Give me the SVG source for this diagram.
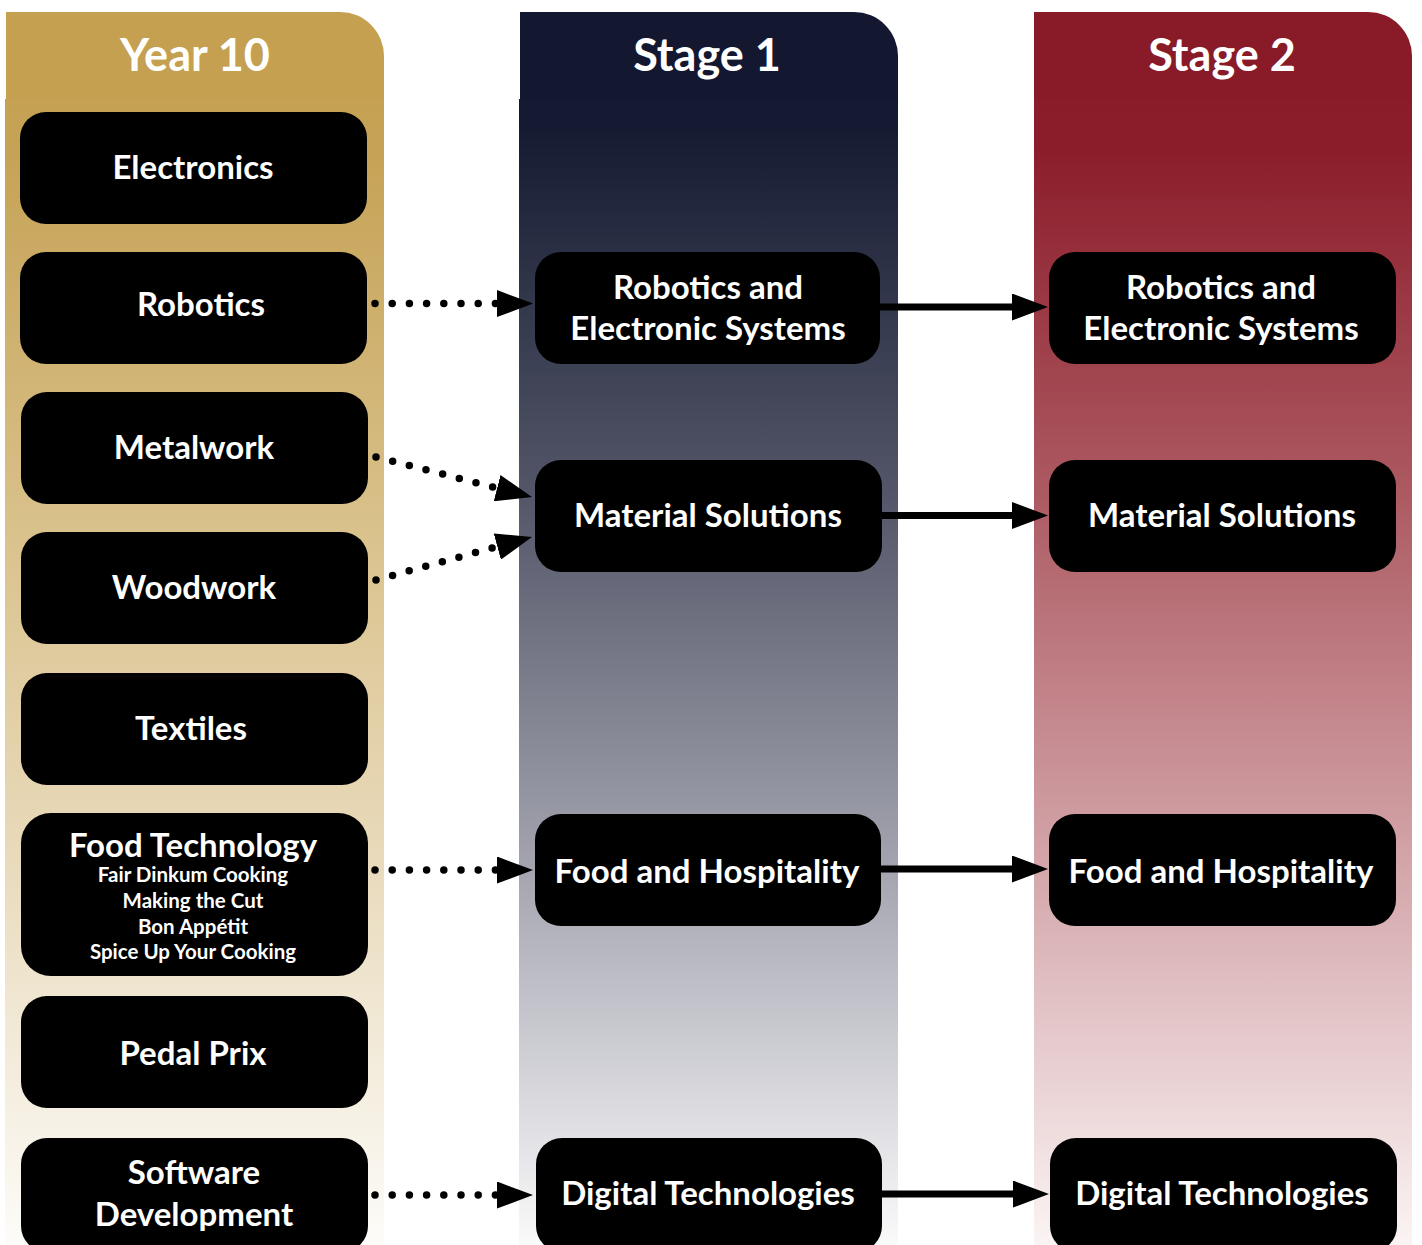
<svg xmlns="http://www.w3.org/2000/svg" width="1422" height="1245" viewBox="0 0 1422 1245">
<defs>
  <linearGradient id="gGold" x1="0" y1="0" x2="0" y2="1245" gradientUnits="userSpaceOnUse">
    <stop offset="0" stop-color="#c4a050"/>
    <stop offset="0.12" stop-color="#c5a255"/>
    <stop offset="0.45" stop-color="#dbc490"/>
    <stop offset="0.7" stop-color="#e9dbbd"/>
    <stop offset="1" stop-color="#fdfcf9"/>
  </linearGradient>
  <linearGradient id="gNavy" x1="0" y1="0" x2="0" y2="1245" gradientUnits="userSpaceOnUse">
    <stop offset="0" stop-color="#131830"/>
    <stop offset="0.1" stop-color="#141a31"/>
    <stop offset="0.4" stop-color="#545769"/>
    <stop offset="0.7" stop-color="#a4a5b0"/>
    <stop offset="1" stop-color="#fafafb"/>
  </linearGradient>
  <linearGradient id="gRed" x1="0" y1="0" x2="0" y2="1245" gradientUnits="userSpaceOnUse">
    <stop offset="0" stop-color="#891a27"/>
    <stop offset="0.12" stop-color="#8b1d2a"/>
    <stop offset="0.4" stop-color="#ad5b63"/>
    <stop offset="0.7" stop-color="#d4a7ab"/>
    <stop offset="1" stop-color="#fbf4f4"/>
  </linearGradient>
  <marker id="ah" viewBox="0 0 36 27" refX="0" refY="13.5" markerWidth="36" markerHeight="27" markerUnits="userSpaceOnUse" orient="auto">
    <path d="M0,0 L36,13.5 L0,27 Z" fill="#000"/>
  </marker>
</defs>
<style>
  .node { fill: #000; }
  .t { font-family: Lato, "Open Sans", sans-serif; font-weight: 700; fill: #fff; text-anchor: middle; }
  .h { font-size: 45px; }
  .n { font-size: 33px; }
  .s { font-size: 20.5px; }
  .dot { fill: none; stroke: #000; stroke-width: 7.5; stroke-linecap: round; stroke-dasharray: 0 17.2; marker-end: url(#ah); }
  .sol { fill: none; stroke: #000; stroke-width: 7; marker-end: url(#ah); }
</style>

<g id="columns">
  <g id="col-year10">
    <path d="M6,12 H340 A44,44 0 0 1 384,56 V100 H6 Z" fill="#c4a050"/>
    <rect x="5" y="99" width="379" height="1146" fill="url(#gGold)"/>
    <text class="t h" x="195" y="71">Year 10</text>
  </g>
  <g id="col-stage1">
    <path d="M520,12 H854 A44,44 0 0 1 898,56 V100 H520 Z" fill="#131830"/>
    <rect x="519" y="99" width="379" height="1146" fill="url(#gNavy)"/>
    <text class="t h" x="707" y="71">Stage 1</text>
  </g>
  <g id="col-stage2">
    <path d="M1034,12 H1368 A44,44 0 0 1 1412,56 V100 H1034 Z" fill="#891a27"/>
    <rect x="1034" y="99" width="378" height="1146" fill="url(#gRed)"/>
    <text class="t h" x="1222" y="71">Stage 2</text>
  </g>
</g>

<g id="connectors">
  <path class="dot" d="M375,303.5 L497,303.5"/>
  <path class="dot" d="M376,457 L497.1,488.1"/>
  <path class="dot" d="M376,580 L497.3,546.6"/>
  <path class="dot" d="M375,870 L497,870"/>
  <path class="dot" d="M375,1195 L497,1195"/>
  <path class="sol" d="M880,307 L1012,307"/>
  <path class="sol" d="M882,515.5 L1012,515.5"/>
  <path class="sol" d="M880,869 L1012,869"/>
  <path class="sol" d="M882,1194 L1013,1194"/>
</g>

<g id="n-electronics"><rect class="node" x="20" y="112" width="347" height="112" rx="26"/><text class="t n" x="193" y="179">Electronics</text></g>
<g id="n-robotics"><rect class="node" x="20" y="252" width="347" height="112" rx="26"/><text class="t n" x="201" y="316">Robotics</text></g>
<g id="n-metalwork"><rect class="node" x="21" y="392" width="347" height="112" rx="26"/><text class="t n" x="194" y="459">Metalwork</text></g>
<g id="n-woodwork"><rect class="node" x="21" y="532" width="347" height="112" rx="26"/><text class="t n" x="194" y="599">Woodwork</text></g>
<g id="n-textiles"><rect class="node" x="21" y="673" width="347" height="112" rx="26"/><text class="t n" x="191" y="740">Textiles</text></g>
<g id="n-foodtech"><rect class="node" x="21" y="813" width="347" height="163" rx="30"/>
  <text class="t n" x="193" y="857">Food Technology</text>
  <text class="t s" x="193" y="882">Fair Dinkum Cooking</text>
  <text class="t s" x="193" y="908">Making the Cut</text>
  <text class="t s" x="193" y="934">Bon Appétit</text>
  <text class="t s" x="193" y="959">Spice Up Your Cooking</text>
</g>
<g id="n-pedalprix"><rect class="node" x="21" y="996" width="347" height="112" rx="26"/><text class="t n" x="193" y="1065">Pedal Prix</text></g>
<g id="n-software"><rect class="node" x="21" y="1138" width="347" height="114" rx="26"/><text class="t n" x="194" y="1184">Software</text><text class="t n" x="194" y="1226">Development</text></g>

<g id="s1-robotics"><rect class="node" x="535" y="252" width="345" height="112" rx="26"/><text class="t n" x="708" y="299">Robotics and</text><text class="t n" x="708" y="340">Electronic Systems</text></g>
<g id="s1-material"><rect class="node" x="535" y="460" width="347" height="112" rx="26"/><text class="t n" x="708" y="527">Material Solutions</text></g>
<g id="s1-food"><rect class="node" x="535" y="814" width="346" height="112" rx="26"/><text class="t n" x="707" y="883">Food and Hospitality</text></g>
<g id="s1-digital"><rect class="node" x="536" y="1138" width="346" height="114" rx="26"/><text class="t n" x="708" y="1205">Digital Technologies</text></g>

<g id="s2-robotics"><rect class="node" x="1049" y="252" width="347" height="112" rx="26"/><text class="t n" x="1221" y="299">Robotics and</text><text class="t n" x="1221" y="340">Electronic Systems</text></g>
<g id="s2-material"><rect class="node" x="1049" y="460" width="347" height="112" rx="26"/><text class="t n" x="1222" y="527">Material Solutions</text></g>
<g id="s2-food"><rect class="node" x="1049" y="814" width="347" height="112" rx="26"/><text class="t n" x="1221" y="883">Food and Hospitality</text></g>
<g id="s2-digital"><rect class="node" x="1050" y="1138" width="347" height="114" rx="26"/><text class="t n" x="1222" y="1205">Digital Technologies</text></g>
</svg>
